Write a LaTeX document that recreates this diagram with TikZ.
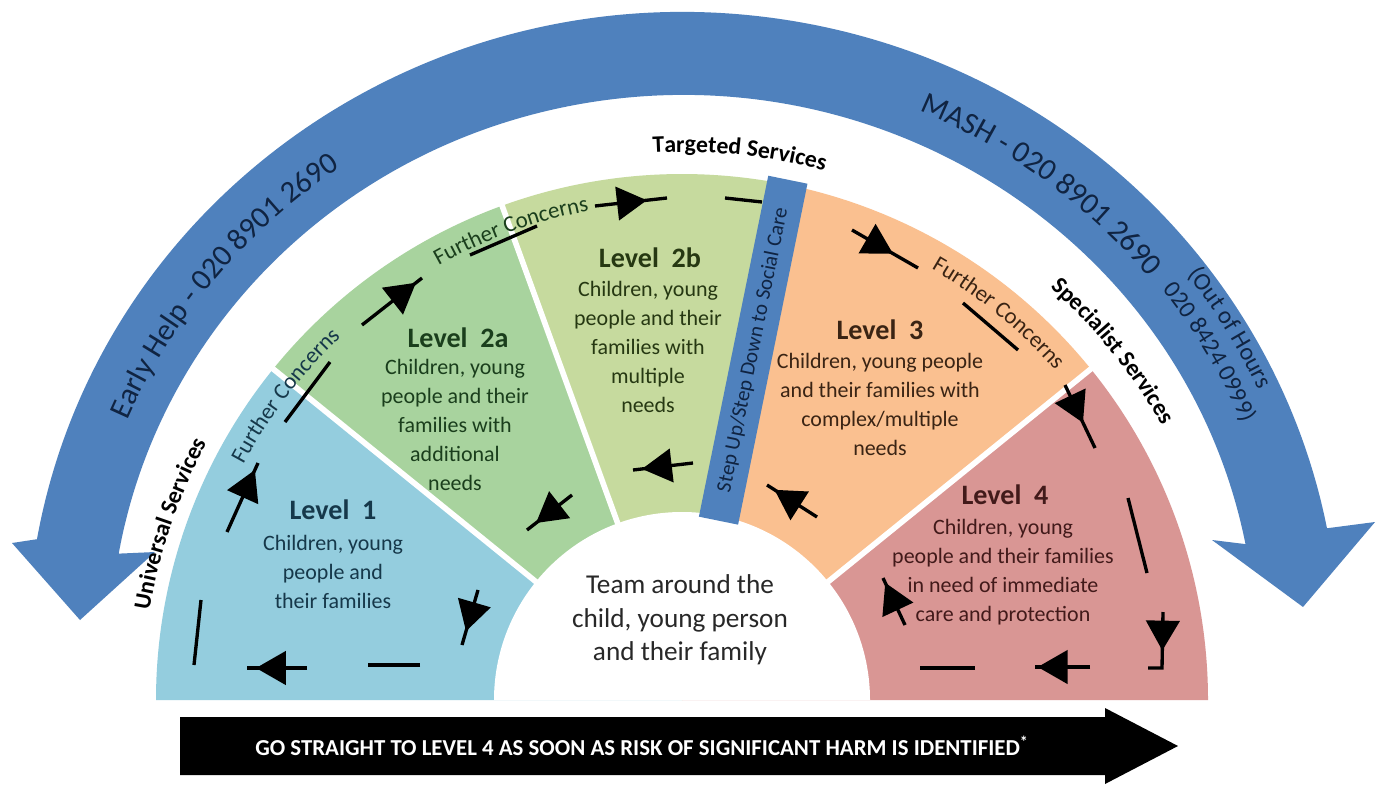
\documentclass[tikz,border=0pt]{standalone}
\usepackage{fontspec}
\setmainfont{Carlito}
\usetikzlibrary{arrows.meta, decorations.markings, decorations.text, positioning}

\definecolor{arcblue}{RGB}{79,129,189}
\definecolor{lvlone}{RGB}{148,205,222}
\definecolor{lvltwoa}{RGB}{168,211,158}
\definecolor{lvltwob}{RGB}{198,218,158}
\definecolor{lvlthree}{RGB}{250,192,144}
\definecolor{lvlfour}{RGB}{217,150,148}
\definecolor{navy}{RGB}{16,36,66}
\definecolor{txtone}{RGB}{22,56,74}
\definecolor{txttwoa}{RGB}{26,62,28}
\definecolor{txttwob}{RGB}{38,56,18}
\definecolor{txtthree}{RGB}{58,36,20}
\definecolor{txtfour}{RGB}{66,26,26}
\definecolor{teamgrey}{RGB}{40,40,40}

\begin{document}
\begin{tikzpicture}[x=0.02cm, y=0.02cm,
    gap/.style={white, line width=3.2pt},
    flow/.style={black, line width=1.9pt},
    flowtip/.style={flow, decoration={markings,
        mark=at position #1 with {\arrow{Triangle[length=17pt, width=19pt]}}},
        postaction={decorate}},
    lvltitle/.style={font=\fontsize{16}{19}\selectfont\bfseries},
    lvlbody/.style={align=center, font=\fontsize{12.5}{16.5}\selectfont},
    teamtext/.style={align=center, text=teamgrey, font=\fontsize{15.5}{19}\selectfont},
    stepbar/.style={fill=arcblue, text=navy, inner sep=0pt,
        minimum width=6.96cm, minimum height=0.8cm, font=\fontsize{12}{14}\selectfont},
    service/.style={decorate, decoration={text along path, text align=center,
        text={|\fontsize{13.5}{16}\selectfont\bfseries|#1}}},
    concern/.style={decorate, decoration={text along path, text align=center,
        text color=#1, text={|\fontsize{13}{15}\selectfont|Further Concerns}}},
    arctext/.style={decorate, decoration={text along path, text align=center,
        text color=navy, text={|\fontsize{17.5}{20}\selectfont|#1}}},
    hourtext/.style={decorate, decoration={text along path, text align=center,
        text color=navy, text={|\fontsize{14}{16}\selectfont|#1}}},
    harm/.style={text=white, font=\fontsize{13}{15}\selectfont\bfseries}
  ]
  \useasboundingbox (0,0) rectangle (1381,796);
  \fill[white] (0,0) rectangle (1381,796);

  % curved arrow for Early Help and MASH
  \begin{scope}[shift={(683,146)}]
    \fill[arcblue] (170:656 and 638) arc[start angle=170, end angle=11, x radius=656, y radius=638]
      -- (692,128) -- (620,43) -- (529,110)
      -- (11:573 and 555) arc[start angle=11, end angle=170, x radius=573, y radius=555]
      -- (-528,98) -- (-603,30) -- (-671,107) -- cycle;
    \path[arctext={Early Help - 020 8901 2690}] (176:604 and 586)
      arc[start angle=176, end angle=106, x radius=604, y radius=586];
    \path[arctext={MASH - 020 8901 2690}] (88:604 and 586)
      arc[start angle=88, end angle=18, x radius=604, y radius=586];
    \path[hourtext={(Out of Hours}] (61:635 and 617)
      arc[start angle=61, end angle=1, x radius=635, y radius=617];
    \path[hourtext={020 8424 0999)}] (60:606 and 589)
      arc[start angle=60, end angle=0, x radius=606, y radius=589];
  \end{scope}

  % the levels
  \begin{scope}[shift={(682,96)}]
    \fill[lvlone] (0,0) -- (180:526) arc[start angle=180, end angle=141, radius=526] -- cycle;
    \fill[lvltwoa] (0,0) -- (141:526) arc[start angle=141, end angle=110, radius=526] -- cycle;
    \fill[lvltwob] (0,0) -- (110:526) arc[start angle=110, end angle=78.5, radius=526] -- cycle;
    \fill[lvlthree] (0,0) -- (78.5:526) arc[start angle=78.5, end angle=39, radius=526] -- cycle;
    \fill[lvlfour] (0,0) -- (39:526) arc[start angle=39, end angle=0, radius=526] -- cycle;
    \fill[white] (188,0) arc[start angle=0, end angle=180, radius=188] -- cycle;
    \draw[gap] (141:180) -- (141:535);
    \draw[gap] (110:180) -- (110:535);
    \draw[gap] (39:180) -- (39:535);
    \node[stepbar, rotate=78.5] (stepup) at (78.5:357) {Step Up/Step Down to Social Care};

    \path[service={Universal Services}] (181:540) arc[start angle=181, end angle=141, radius=540];
    \path[service={Targeted Services}] (109:548) arc[start angle=109, end angle=59, radius=548];
    \path[service={Specialist Services}] (64:553) arc[start angle=64, end angle=14, radius=553];

    \path[concern=txtone] (167.5:498) arc[start angle=167.5, end angle=117.5, radius=498];
    \path[concern=txttwoa] (135:498) arc[start angle=135, end angle=85, radius=498];
    \path[concern=txtthree] (75.7:498) arc[start angle=75.7, end angle=25.7, radius=498];
  \end{scope}

  \node[lvltitle, text=txtone] (lvlone) at (333,286) {Level\ \ 1};
  \node[lvlbody, text=txtone] (lvlonebody) at (333,224) {Children, young\\people and\\their families};
  \node[lvltitle, text=txttwoa] (lvltwoa) at (458,458) {Level\ \ 2a};
  \node[lvlbody, text=txttwoa] (lvltwoabody) at (455,371) {Children, young\\people and their\\families with\\additional\\needs};
  \node[lvltitle, text=txttwob] (lvltwob) at (650,538) {Level\ \ 2b};
  \node[lvlbody, text=txttwob] (lvltwobbody) at (648,449) {Children, young\\people and their\\families with\\multiple\\needs};
  \node[lvltitle, text=txtthree] (lvlthree) at (880,466) {Level\ \ 3};
  \node[lvlbody, text=txtthree] (lvlthreebody) at (880,392) {Children, young people\\and their families with\\complex/multiple\\needs};
  \node[lvltitle, text=txtfour] (lvlfour) at (1005,301) {Level\ \ 4};
  \node[lvlbody, text=txtfour] (lvlfourbody) at (1003,224) {Children, young\\people and their families\\in need of immediate\\care and protection};
  \node[teamtext] (team) at (680,176) {Team around the\\child, young person\\and their family};

  % flow around the levels
  \draw[flowtip=0.75] (478,206) -- (462,151);
  \draw[flowtip=0.85] (307,128) -- (247,128);
  \draw[flow] (420,131) -- (368,131);
  \draw[flow] (201,196) -- (194,131);
  \draw[flowtip=0.9] (227,264) -- (258,333);
  \draw[flow] (285,374) -- (330,434);
  \draw[flowtip=0.9] (362,471) -- (422,518);
  \draw[flow] (470,541) -- (537,570);
  \draw[flowtip=0.72] (595,590) -- (667,598);
  \draw[flow] (725,598) -- (762,594);
  \draw[flowtip=0.62] (852,566) -- (918,528);
  \draw[flow] (963,493) -- (1018,446);
  \draw[flowtip=0.6] (1065,411) -- (1095,348);
  \draw[flow] (1128,298) -- (1147,223);
  \draw[flowtip=0.55] (1163,184) -- (1162,128) -- (1148,128);
  \draw[flowtip=0.95] (1090,129) -- (1035,129);
  \draw[flow] (975,128) -- (920,128);
  \draw[flowtip=0.9] (905,171) -- (883,218);
  \draw[flowtip=0.85] (817,279) -- (767,311);
  \draw[flowtip=0.85] (693,333) -- (633,326);
  \draw[flowtip=0.8] (572,301) -- (527,266);

  % straight to level 4
  \fill[black] (180,79) -- (1105,79) -- (1105,88) -- (1178,50) -- (1105,12)
    -- (1105,21) -- (180,21) -- cycle;
  \node[harm] (harmtext) at (642,50) {GO STRAIGHT TO LEVEL 4 AS SOON AS RISK OF SIGNIFICANT HARM IS IDENTIFIED\textsuperscript{*}};
\end{tikzpicture}
\end{document}
